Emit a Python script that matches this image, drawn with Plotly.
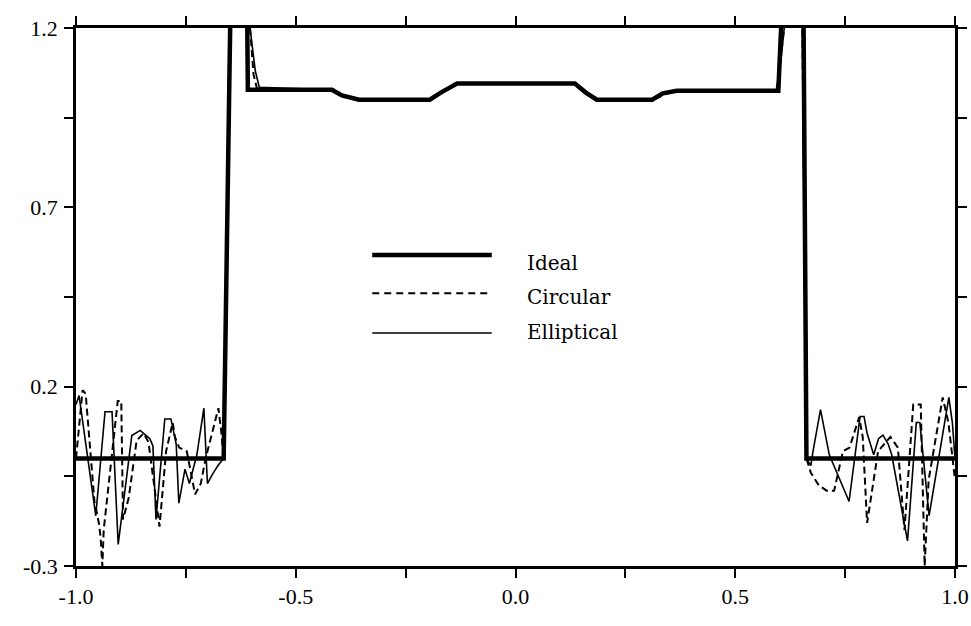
import plotly.graph_objects as go

# ---------------- data ----------------
ideal_x = [-1.0, -0.664, -0.648, -0.611, -0.609, -0.418, -0.395, -0.356, -0.195, -0.17, -0.133,
           0.135, 0.16, 0.185, 0.311, 0.335, 0.367, 0.598, 0.608, 0.655, 0.662, 1.0]
ideal_y = [0.0, 0.0, 1.3, 1.3, 1.028, 1.028, 1.012, 1.0, 1.0, 1.02, 1.045,
           1.045, 1.02, 1.0, 1.0, 1.018, 1.025, 1.025, 1.3, 1.3, 0.0, 0.0]

circ_x = [-1.0, -0.985, -0.978, -0.958, -0.948, -0.944, -0.940, -0.937, -0.905, -0.897, -0.893,
          -0.880, -0.862, -0.846, -0.835, -0.810, -0.795, -0.780, -0.775, -0.765, -0.748, -0.729,
          -0.716, -0.705, -0.676, -0.670, -0.664, -0.650, -0.612, -0.604, -0.596, -0.588,
          -0.415, -0.39, -0.355, -0.195, -0.165, -0.135, 0.135, 0.165, 0.188, 0.31, 0.34, 0.367,
          0.595, 0.604, 0.611, 0.62, 0.652, 0.662,
          0.672, 0.690, 0.708, 0.725, 0.745, 0.760, 0.782, 0.790, 0.800, 0.825, 0.853, 0.870,
          0.885, 0.905, 0.922, 0.931, 0.940, 0.972, 0.985, 1.0]
circ_y = [0.0, 0.19, 0.18, -0.12, -0.18, -0.22, -0.30, -0.20, 0.16, 0.16, -0.17,
          -0.11, 0.05, 0.07, 0.045, -0.19, 0.02, 0.10, 0.06, 0.03, 0.02, -0.10,
          -0.07, 0.0, 0.14, 0.08, 0.0, 1.3, 1.3, 1.2, 1.07, 1.03,
          1.03, 1.01, 0.998, 0.998, 1.025, 1.046, 1.046, 1.02, 0.998, 0.998, 1.015, 1.025,
          1.025, 1.12, 1.2, 1.3, 1.3, 0.0,
          -0.04, -0.075, -0.09, -0.09, 0.02, 0.03, 0.115, 0.06, -0.18, 0.02, 0.06, 0.03,
          -0.2, 0.15, 0.15, -0.30, -0.06, 0.17, 0.10, -0.06]

ellip_x = [-1.0, -0.993, -0.955, -0.934, -0.918, -0.904, -0.873, -0.854, -0.832, -0.825, -0.818,
           -0.798, -0.784, -0.772, -0.766, -0.752, -0.742, -0.725, -0.709, -0.701, -0.690, -0.677,
           -0.664, -0.650, -0.612, -0.604, -0.592, -0.583,
           -0.42, -0.392, -0.36, -0.195, -0.168, -0.138, 0.138, 0.165, 0.185, 0.312, 0.338, 0.367,
           0.593, 0.603, 0.611, 0.62, 0.652, 0.662,
           0.672, 0.677, 0.694, 0.714, 0.759, 0.784, 0.793, 0.800, 0.815, 0.826, 0.836, 0.848,
           0.856, 0.892, 0.912, 0.920, 0.941, 0.986, 0.994, 1.0]
ellip_y = [0.15, 0.175, -0.16, 0.13, 0.13, -0.24, 0.064, 0.078, 0.055, 0.035, -0.17,
           0.11, 0.11, 0.04, -0.125, -0.03, -0.07, 0.01, 0.14, -0.07, -0.045, -0.02,
           0.0, 1.3, 1.3, 1.2, 1.08, 1.035,
           1.028, 1.01, 1.0, 1.0, 1.02, 1.044, 1.044, 1.02, 1.0, 1.0, 1.016, 1.025,
           1.025, 1.1, 1.2, 1.3, 1.3, 0.0,
           -0.02, 0.02, 0.136, 0.01, -0.12, 0.117, 0.117, 0.07, 0.01, 0.055, 0.065, 0.04,
           0.01, -0.23, 0.10, 0.10, -0.16, 0.17, 0.10, 0.0]

x_major = [-1.0, -0.5, 0.0, 0.5, 1.0]
x_labels = ["-1.0", "-0.5", "0.0", "0.5", "1.0"]
y_major = [-0.3, 0.2, 0.7, 1.2]
y_labels = ["-0.3", "0.2", "0.7", "1.2"]
legend_names = ["Ideal", "Circular", "Elliptical"]

TICK_FONT = "Liberation Serif"
LEG_FONT = "DejaVu Serif"

fig = go.Figure()
fig.add_trace(go.Scatter(x=circ_x, y=circ_y, mode="lines", name=legend_names[1],
                         line=dict(color="black", width=2, dash="7px,4px"), showlegend=False))
fig.add_trace(go.Scatter(x=ellip_x, y=ellip_y, mode="lines", name=legend_names[2],
                         line=dict(color="black", width=1.6), showlegend=False))
fig.add_trace(go.Scatter(x=ideal_x, y=ideal_y, mode="lines", name=legend_names[0],
                         line=dict(color="black", width=4.5), showlegend=False))

axis_common = dict(showgrid=False, zeroline=False, showline=True, linecolor="black",
                   linewidth=2.5, mirror="ticks", ticks="outside", ticklen=9, tickwidth=2,
                   tickcolor="black", automargin=False,
                   tickfont=dict(family=TICK_FONT, size=22, color="black"))

fig.update_xaxes(range=[-1.0, 1.0], tickvals=x_major, ticktext=x_labels,
                 ticklabelstandoff=0,
                 minor=dict(tick0=-1.0, dtick=0.25, ticks="outside", ticklen=9,
                            tickwidth=2, tickcolor="black"),
                 **axis_common)
fig.update_yaxes(range=[-0.3, 1.2], tickvals=y_major, ticktext=y_labels,
                 ticklabelstandoff=2,
                 minor=dict(tick0=-0.3, dtick=0.25, ticks="outside", ticklen=9,
                            tickwidth=2, tickcolor="black"),
                 **axis_common)

# manual legend (long sample lines as in the reference)
leg_y = [0.578, 0.507, 0.433]
leg_txt_y = [0.563, 0.500, 0.435]
leg_dash = ["solid", "7px,5px", "solid"]
leg_w = [4.5, 2, 1.6]
for i, name in enumerate(legend_names):
    fig.add_shape(type="line", xref="paper", yref="paper", x0=0.337, x1=0.473,
                  y0=leg_y[i], y1=leg_y[i],
                  line=dict(color="black", width=leg_w[i], dash=leg_dash[i]))
    fig.add_annotation(xref="paper", yref="paper", x=0.511, y=leg_txt_y[i], text=name,
                       showarrow=False, xanchor="left", yanchor="middle",
                       font=dict(family=LEG_FONT, size=20, color="black"))

fig.update_layout(width=971, height=626, margin=dict(l=76, r=16, t=28, b=60),
                  paper_bgcolor="white", plot_bgcolor="white", showlegend=False)

fig.write_html("out.html", config={"displayModeBar": False},
               post_script="document.body.style.margin='0px';document.body.style.overflow='hidden';")
